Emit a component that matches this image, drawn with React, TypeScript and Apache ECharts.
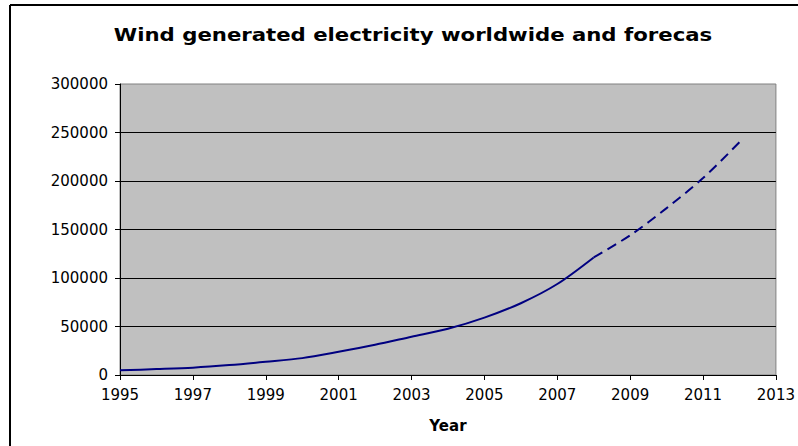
import React, { useEffect, useRef } from "react";
import * as echarts from "echarts";

// Worldwide installed wind capacity (MW): measured through 2008, forecast after
const actualYears = [1995, 1996, 1997, 1998, 1999, 2000, 2001, 2002, 2003, 2004, 2005, 2006, 2007, 2008];
const actualValues = [4800, 6100, 7600, 10200, 13600, 17400, 23900, 31100, 39400, 47600, 59100, 74000, 93800, 121200];
const forecastYears = [2008, 2009, 2010, 2011, 2012];
const forecastValues = [121200, 144000, 172000, 203000, 240000];

const firstYear = 1995;
const lastYear = 2013;
const yTicks = [0, 50000, 100000, 150000, 200000, 250000, 300000];

const titleText = "Wind generated electricity worldwide and forecas";
const FONT = "DejaVu Sans";

export default function App() {
  const ref = useRef<HTMLDivElement>(null);

  useEffect(() => {
    if (!ref.current) return;
    const chart = echarts.init(ref.current, null, { renderer: "svg" });

    // years are placed as offsets from the first year so ticks land on 1995, 1997, ...
    const toPairs = (ys: number[], vs: number[]) => ys.map((y, i) => [y - firstYear, vs[i]]);

    chart.setOption({
      animation: false,
      backgroundColor: "#ffffff",
      graphic: [
        { type: "line", shape: { x1: 10, y1: 5, x2: 798, y2: 5 }, style: { stroke: "#000", lineWidth: 2 } },
        { type: "line", shape: { x1: 10, y1: 5, x2: 10, y2: 446 }, style: { stroke: "#000", lineWidth: 2 } },
        {
          type: "text",
          x: 413,
          y: 35,
          scaleX: 1.18,
          style: {
            text: titleText,
            fontFamily: FONT,
            fontWeight: "bold",
            fontSize: 18,
            fill: "#000",
            align: "center",
            verticalAlign: "middle",
          },
        },
      ],
      grid: {
        left: 120,
        right: 22,
        top: 84,
        bottom: 71,
        show: true,
        backgroundColor: "#c0c0c0",
        borderColor: "#808080",
        borderWidth: 1,
      },
      xAxis: {
        type: "value",
        min: 0,
        max: lastYear - firstYear,
        interval: 2,
        name: "Year",
        nameLocation: "middle",
        nameGap: 43,
        nameTextStyle: { fontFamily: FONT, fontWeight: "bold", fontSize: 15, color: "#000" },
        axisLine: { show: true, lineStyle: { color: "#000", width: 1 } },
        axisTick: { show: true, length: 5, lineStyle: { color: "#000" } },
        axisLabel: {
          margin: 12,
          fontFamily: FONT,
          fontSize: 15,
          color: "#000",
          formatter: (v: number) => String(v + firstYear),
        },
        splitLine: { show: false },
      },
      yAxis: {
        type: "value",
        min: yTicks[0],
        max: yTicks[yTicks.length - 1],
        interval: yTicks[1] - yTicks[0],
        axisLine: { show: true, lineStyle: { color: "#000", width: 1 } },
        axisTick: { show: true, length: 5, lineStyle: { color: "#000" } },
        axisLabel: {
          margin: 12,
          fontFamily: FONT,
          fontSize: 15,
          color: "#000",
          formatter: (v: number) => String(v),
        },
        splitLine: { show: true, showMinLine: false, showMaxLine: false, lineStyle: { color: "#000", width: 1 } },
      },
      series: [
        {
          type: "line",
          data: toPairs(actualYears, actualValues),
          smooth: 0.3,
          showSymbol: false,
          lineStyle: { color: "#000080", width: 2 },
        },
        {
          type: "line",
          data: toPairs(forecastYears, forecastValues),
          smooth: 0.3,
          showSymbol: false,
          lineStyle: { color: "#000080", width: 2, type: [10, 6] },
        },
      ],
    });

    return () => chart.dispose();
  }, []);

  return (
    <div
      ref={ref}
      style={{ position: "fixed", left: 0, top: 0, width: 798, height: 446 }}
    />
  );
}
